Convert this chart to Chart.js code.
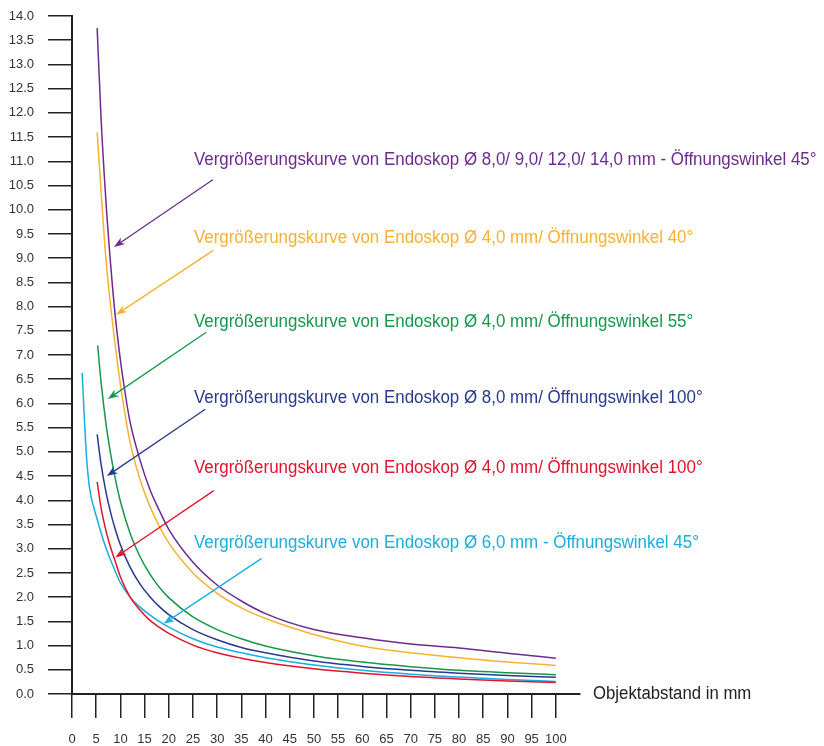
<!DOCTYPE html>
<html>
<head>
<meta charset="utf-8">
<script src="https://cdn.jsdelivr.net/npm/chart.js@4"></script>
<style>
  html, body { margin: 0; padding: 0; background: #fff; }
</style>
</head>
<body>
<canvas id="myChart" width="824" height="746"></canvas>
<script>
// data block
const xTicks = [0, 5, 10, 15, 20, 25, 30, 35, 40, 45, 50, 55, 60, 65, 70, 75, 80, 85, 90, 95, 100];
const yTicks = [0, 0.5, 1, 1.5, 2, 2.5, 3, 3.5, 4, 4.5, 5, 5.5, 6, 6.5, 7, 7.5, 8, 8.5, 9, 9.5, 10, 10.5, 11, 11.5, 12, 12.5, 13, 13.5, 14];

const purpleX = [5.2, 6, 7, 8, 9, 10, 11, 12, 14, 16, 18, 20, 25, 30, 35, 40, 50, 60, 70, 80, 90, 100];
const purpleY = [13.75, 11.9, 10.2, 8.85, 7.75, 6.9, 6.2, 5.62, 4.85, 4.25, 3.8, 3.4, 2.72, 2.25, 1.92, 1.66, 1.33, 1.16, 1.03, 0.95, 0.84, 0.74];

const orangeX = [5.2, 6, 7, 8, 9, 10, 12, 14, 16, 18, 20, 25, 30, 35, 40, 50, 60, 70, 80, 90, 100];
const orangeY = [11.6, 10.4, 9.0, 8.0, 7.15, 6.4, 5.2, 4.45, 3.9, 3.47, 3.12, 2.5, 2.08, 1.78, 1.56, 1.23, 0.99, 0.85, 0.75, 0.66, 0.59];

const greenX = [5.3, 6, 7, 8, 9, 10, 12, 14, 16, 18, 20, 25, 30, 35, 40, 50, 60, 70, 80, 90, 100];
const greenY = [7.2, 6.45, 5.6, 4.95, 4.42, 3.98, 3.32, 2.85, 2.49, 2.21, 1.99, 1.59, 1.33, 1.14, 0.99, 0.79, 0.66, 0.565, 0.49, 0.44, 0.40];

const navyX = [5.2, 6, 7, 8, 9, 10, 12, 14, 16, 18, 20, 25, 30, 35, 40, 50, 60, 70, 80, 90, 100];
const navyY = [5.36, 4.75, 4.18, 3.74, 3.38, 3.08, 2.62, 2.28, 2.02, 1.81, 1.64, 1.33, 1.12, 0.96, 0.85, 0.68, 0.57, 0.49, 0.43, 0.38, 0.345];

const redX = [5.2, 6, 7, 8, 9, 10, 12, 14, 16, 18, 20, 25, 30, 35, 40, 50, 60, 70, 80, 90, 100];
const redY = [4.38, 3.85, 3.38, 3.02, 2.72, 2.42, 2.0, 1.74, 1.53, 1.38, 1.25, 1.01, 0.85, 0.74, 0.65, 0.52, 0.43, 0.36, 0.31, 0.27, 0.235];

const cyanX = [2.1, 2.5, 3, 3.5, 4, 5, 6, 7, 8, 9, 10, 12, 14, 16, 18, 20, 25, 30, 35, 40, 50, 60, 70, 80, 90, 100];
const cyanY = [6.63, 5.8, 4.9, 4.35, 4.05, 3.68, 3.33, 3.02, 2.76, 2.52, 2.3, 2.0, 1.8, 1.64, 1.5, 1.38, 1.14, 0.97, 0.85, 0.75, 0.6, 0.49, 0.41, 0.35, 0.3, 0.26];

const seriesLabels = [
  "Vergrößerungskurve von Endoskop Ø 8,0/ 9,0/ 12,0/ 14,0 mm - Öffnungswinkel 45°",
  "Vergrößerungskurve von Endoskop Ø 4,0 mm/ Öffnungswinkel 40°",
  "Vergrößerungskurve von Endoskop Ø 4,0 mm/ Öffnungswinkel 55°",
  "Vergrößerungskurve von Endoskop Ø 8,0 mm/ Öffnungswinkel 100°",
  "Vergrößerungskurve von Endoskop Ø 4,0 mm/ Öffnungswinkel 100°",
  "Vergrößerungskurve von Endoskop Ø 6,0 mm - Öffnungswinkel 45°"
];
const xTitle = "Objektabstand in mm";

// styles
const colors = ["#6d2b8f", "#f9b131", "#15984a", "#283a8e", "#e2132d", "#1aaddf"];
const axisColor = "#222222";
const tickFont = { family: "'Liberation Sans', Arial, sans-serif", size: 13 };
const noteFont = "18px 'Liberation Sans', Arial, sans-serif";

// where the callouts sit, in axis units: text anchor, arrow start, arrow tip
const notes = [
  { tx: 25.2, ty: 11.03, ax: 29.1, ay: 10.62, bx: 8.7, by: 9.23 },
  { tx: 25.2, ty: 9.42, ax: 29.2, ay: 9.16, bx: 9.1, by: 7.83 },
  { tx: 25.2, ty: 7.68, ax: 27.75, ay: 7.47, bx: 7.4, by: 6.09 },
  { tx: 25.2, ty: 6.11, ax: 27.55, ay: 5.88, bx: 7.2, by: 4.5 },
  { tx: 25.2, ty: 4.67, ax: 29.3, ay: 4.2, bx: 8.95, by: 2.82 },
  { tx: 25.2, ty: 3.12, ax: 39.2, ay: 2.8, bx: 18.95, by: 1.45 }
];

const xs = [purpleX, orangeX, greenX, navyX, redX, cyanX];
const ys = [purpleY, orangeY, greenY, navyY, redY, cyanY];

const datasets = xs.map((xArr, i) => ({
  label: seriesLabels[i],
  data: xArr.map((x, j) => ({ x: x, y: ys[i][j] })),
  borderColor: colors[i],
  backgroundColor: colors[i],
  borderWidth: 1.5,
  pointRadius: 0,
  cubicInterpolationMode: "monotone",
  fill: false,
}));

function drawArrow(ctx, x0, y0, x1, y1, color) {
  const a = Math.atan2(y1 - y0, x1 - x0);
  const c = Math.cos(a), s = Math.sin(a);
  const len = 11, half = 4;
  ctx.strokeStyle = color;
  ctx.lineWidth = 1.3;
  ctx.beginPath();
  ctx.moveTo(x0, y0);
  ctx.lineTo(x1 - len * 0.6 * c, y1 - len * 0.6 * s);
  ctx.stroke();
  ctx.fillStyle = color;
  ctx.beginPath();
  ctx.moveTo(x1, y1);
  ctx.lineTo(x1 - len * c + half * s, y1 - len * s - half * c);
  ctx.lineTo(x1 - len * 0.7 * c, y1 - len * 0.7 * s);
  ctx.lineTo(x1 - len * c - half * s, y1 - len * s + half * c);
  ctx.closePath();
  ctx.fill();
}

const callouts = {
  id: "callouts",
  afterDatasetsDraw(chart) {
    const ctx = chart.ctx;
    const sx = chart.scales.x, sy = chart.scales.y;
    ctx.save();
    ctx.font = noteFont;
    // condense the text like the original narrow face
    const squeeze = 0.993 * 627 / ctx.measureText(seriesLabels[0]).width;
    notes.forEach((n, i) => {
      drawArrow(ctx, sx.getPixelForValue(n.ax), sy.getPixelForValue(n.ay),
        sx.getPixelForValue(n.bx), sy.getPixelForValue(n.by), colors[i]);
      ctx.save();
      ctx.translate(sx.getPixelForValue(n.tx), sy.getPixelForValue(n.ty));
      ctx.scale(squeeze, 1);
      ctx.fillStyle = colors[i];
      ctx.textAlign = "left";
      ctx.textBaseline = "middle";
      ctx.fillText(seriesLabels[i], 0, 0);
      ctx.restore();
    });
    // axis title to the right of the x axis
    ctx.save();
    ctx.translate(chart.chartArea.right + 13, sy.getPixelForValue(0));
    ctx.scale(squeeze * 0.99, 1);
    ctx.fillStyle = axisColor;
    ctx.textAlign = "left";
    ctx.textBaseline = "middle";
    ctx.fillText(xTitle, 0, 0);
    ctx.restore();
    ctx.restore();
  }
};

const config = {
  type: "line",
  data: { datasets: datasets },
  options: {
    responsive: false,
    animation: false,
    layout: { padding: { top: 16, right: 244, left: 0, bottom: 0 } },
    plugins: { legend: { display: false }, tooltip: { enabled: false } },
    scales: {
      x: {
        type: "linear",
        min: 0,
        max: 105,
        afterBuildTicks: (scale) => { scale.ticks = xTicks.map(v => ({ value: v })); },
        afterFit: (scale) => { scale.height = 52; },
        ticks: { autoSkip: false, maxRotation: 0, color: "#333", font: tickFont, padding: 14 },
        grid: { drawOnChartArea: false, drawTicks: true, tickLength: 24, color: axisColor, lineWidth: 1.5 },
        border: { display: true, color: axisColor, width: 2 },
      },
      y: {
        min: 0,
        max: 14,
        afterBuildTicks: (scale) => { scale.ticks = yTicks.map(v => ({ value: v })); },
        afterFit: (scale) => { scale.width = 72; scale.paddingTop = 0; scale.paddingBottom = 0; },
        ticks: { autoSkip: false, color: "#333", font: tickFont, padding: 14, callback: (v) => Number(v).toFixed(1) },
        grid: { drawOnChartArea: false, drawTicks: true, tickLength: 24, color: axisColor, lineWidth: 1.5 },
        border: { display: true, color: axisColor, width: 2 },
      },
    },
  },
  plugins: [callouts],
};

const myChart = new Chart(document.getElementById("myChart"), config);
</script>
</body>
</html>
